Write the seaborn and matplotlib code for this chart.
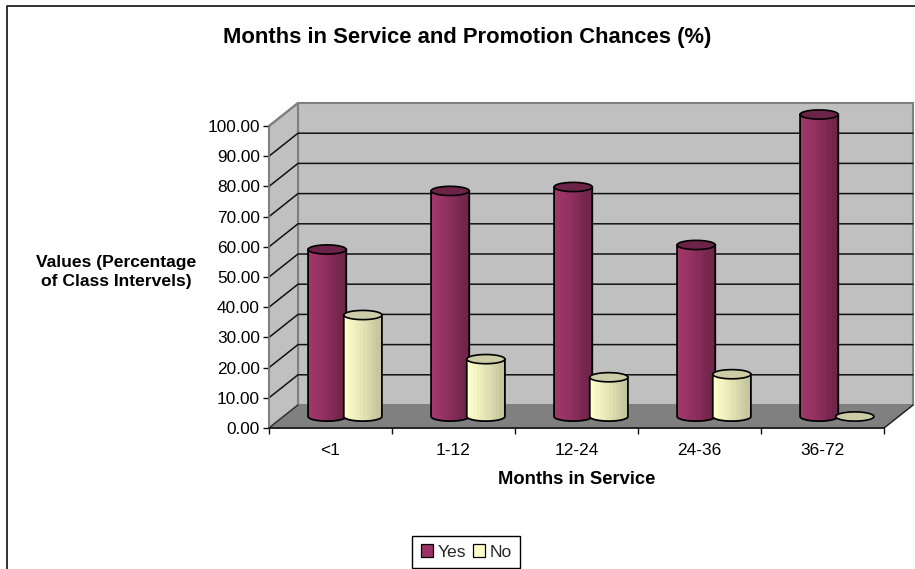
import numpy as np
import pandas as pd
import seaborn as sns
import matplotlib.pyplot as plt
from matplotlib.patches import Polygon, PathPatch
from matplotlib.path import Path
from matplotlib.colors import LinearSegmentedColormap

categories = ['<1', '1-12', '12-24', '24-36', '36-72']
yes_values = [55.3, 74.7, 76.0, 56.8, 100.0]
no_values = [33.6, 19.0, 13.0, 14.0, 0.0]
y_ticks = [0, 10, 20, 30, 40, 50, 60, 70, 80, 90, 100]

W, H = 915, 569
# front plane of the fake 3d box, in pixels
left, right, base, top100 = 269, 884, 428, 126
dx, dy = 29, -23  # depth offset of the back wall

sns.set_theme(style='white')
plt.rcParams['font.family'] = ['Liberation Sans', 'DejaVu Sans']

fig = plt.figure(figsize=(W / 100, H / 100), dpi=100, facecolor='white')


def axes_px(x0, x1, y_bottom, y_top, **kw):
	return fig.add_axes([x0 / W, 1 - y_bottom / H, (x1 - x0) / W, (y_bottom - y_top) / H], **kw)


# background: walls, floor and gridlines in pixel coords
bg = fig.add_axes([0, 0, 1, 1])
bg.set_xlim(0, W)
bg.set_ylim(H, 0)
bg.axis('off')
bg.plot([7, 7, W + 5], [H + 5, 6, 6], color='#222222', lw=1.3, clip_on=False)
wall_c, floor_c, edge_c = '#C0C0C0', '#808080', '#808080'
bg.add_patch(Polygon([(left + dx, top100 + dy), (right + dx, top100 + dy), (right + dx, base + dy), (left + dx, base + dy)],
					 fc=wall_c, ec=edge_c, lw=1.5))
bg.add_patch(Polygon([(left, top100), (left + dx, top100 + dy), (left + dx, base + dy), (left, base)],
					 fc=wall_c, ec=edge_c, lw=1.5))
bg.add_patch(Polygon([(left, base), (left + dx, base + dy), (right + dx, base + dy), (right, base)],
					 fc=floor_c, ec=edge_c, lw=1))
px_per_unit = (base - top100) / 100
for v in y_ticks[1:-1]:
	yy = base - v * px_per_unit
	bg.plot([left, left + dx, right + dx], [yy, yy + dy, yy + dy], color='#111111', lw=1.1)
bg.plot([left, left + dx], [top100, top100 + dy], color=edge_c, lw=1.5)
bg.plot([left, left + dx], [base, base + dy], color='#333333', lw=1)
bg.plot([right, right + dx], [base, base + dy], color='#222222', lw=1)

# front axes only carries the ticks and labels
front = axes_px(left, right, base, top100)
front.patch.set_alpha(0)
front.set_xlim(-0.5, 4.5)
front.set_ylim(0, 100)
front.set_yticks(y_ticks)
front.set_yticklabels(['{:.2f}'.format(v) for v in y_ticks], fontsize=12.4, color='black')
front.set_xticks(np.arange(-0.5, 5, 1))
front.set_xticklabels([])
front.set_xticks(np.arange(5), labels=categories, minor=True, fontsize=12.4, color='black')
front.tick_params(axis='x', which='major', length=4.5, width=1, color='#111111', bottom=True)
front.tick_params(axis='x', which='minor', length=0, pad=11, bottom=True)
front.tick_params(axis='y', length=4.5, width=1, color='#111111', left=True, pad=2)
for s in ['top', 'right']:
	front.spines[s].set_visible(False)
front.spines['left'].set_color('#808080')
front.spines['left'].set_linewidth(1.2)
front.spines['bottom'].set_color('#111111')
front.spines['bottom'].set_linewidth(1.2)
front.set_xlabel('Months in Service', fontsize=13.2, fontweight='bold', color='black', va='center')
front.xaxis.set_label_coords(0.4995, -0.172)
front.set_ylabel('Values (Percentage\nof Class Intervels)', fontsize=12.6, fontweight='bold',
				 rotation=0, ha='center', va='center', color='black', linespacing=1.35)
front.yaxis.set_label_coords(-0.2485, 0.516)

fig.text(467.5 / W, 1 - 37 / H, 'Months in Service and Promotion Chances (%)', fontsize=15.8,
		 fontweight='bold', ha='center', va='center', color='black')

# bars sit halfway into the box
df = pd.DataFrame({'cat': categories * 2,
				   'val': yes_values + no_values,
				   'series': ['Yes'] * len(categories) + ['No'] * len(categories)})
mid = axes_px(left + dx / 2, right + dx / 2, base + dy / 2, top100 + dy / 2)
mid.patch.set_alpha(0)
sns.barplot(data=df, x='cat', y='val', hue='series', hue_order=['Yes', 'No'],
			palette={'Yes': '#993366', 'No': '#FFFFCC'}, width=0.58, gap=0, dodge=True,
			saturation=1, ax=mid)
mid.set_xlim(-0.5, 4.5)
mid.set_ylim(0, 100)
mid.set_xlabel('')
mid.set_ylabel('')
mid.set_xticks([])
mid.set_yticks([])
for s in mid.spines.values():
	s.set_visible(False)

styles = [(['#A23869', '#993366', '#8C2F5D', '#7A2850', '#6F2549'], '#6B2347'),
		  (['#FFFFCC', '#F2F2C0', '#E3E3B4', '#D2D2A8', '#C2C29A'], '#CCCCA6')]
ell = 4.6 / px_per_unit  # half height of the ellipses, data units
t = np.linspace(0, np.pi, 40)
for i, cont in enumerate(mid.containers):
	cmap = LinearSegmentedColormap.from_list('c', styles[i][0])
	for bar in cont:
		xc = bar.get_x() + bar.get_width() / 2
		hw = bar.get_width() * 0.535
		h = bar.get_height()
		z = 3 + i * 3
		xs = xc + hw * np.cos(t)
		body = np.vstack([np.column_stack([xs[::-1], np.full(40, h)]),
						  np.column_stack([xs, -ell * np.sin(t)])])
		patch = PathPatch(Path(np.vstack([body, body[0]]), closed=True), fc='none', ec='black', lw=1.3,
						  zorder=z + 1, clip_on=False)
		if h > 0:
			im = mid.imshow(np.linspace(0, 1, 12).reshape(1, -1), cmap=cmap, aspect='auto', zorder=z,
							extent=(xc - hw, xc + hw, -ell, h), interpolation='nearest')
			mid.add_patch(patch)
			im.set_clip_path(patch)
			im.set_clip_box(fig.bbox)
		cap = np.column_stack([xc + hw * np.cos(2 * t), h + ell * np.sin(2 * t)])
		mid.add_patch(Polygon(cap, closed=True, fc=styles[i][1], ec='black', lw=1.2, zorder=z + 2, clip_on=False))
mid.set_xlim(-0.5, 4.5)
mid.set_ylim(0, 100)

sns.move_legend(mid, 'center', bbox_to_anchor=(466 / W, 1 - 552 / H), bbox_transform=fig.transFigure,
				ncol=2, title=None, frameon=True, fontsize=12.6, handlelength=0.7, handleheight=0.7,
				columnspacing=0.4, handletextpad=0.25, borderpad=0.5, borderaxespad=0)
leg = mid.get_legend()
leg.set_zorder(20)
leg.get_frame().set_edgecolor('black')
leg.get_frame().set_linewidth(1)
leg.get_frame().set_boxstyle('square', pad=0)
leg.get_frame().set_alpha(1)
for p in leg.get_patches():
	p.set_edgecolor('black')
	p.set_linewidth(0.9)

fig.savefig('out.png', dpi=100, facecolor='white')
